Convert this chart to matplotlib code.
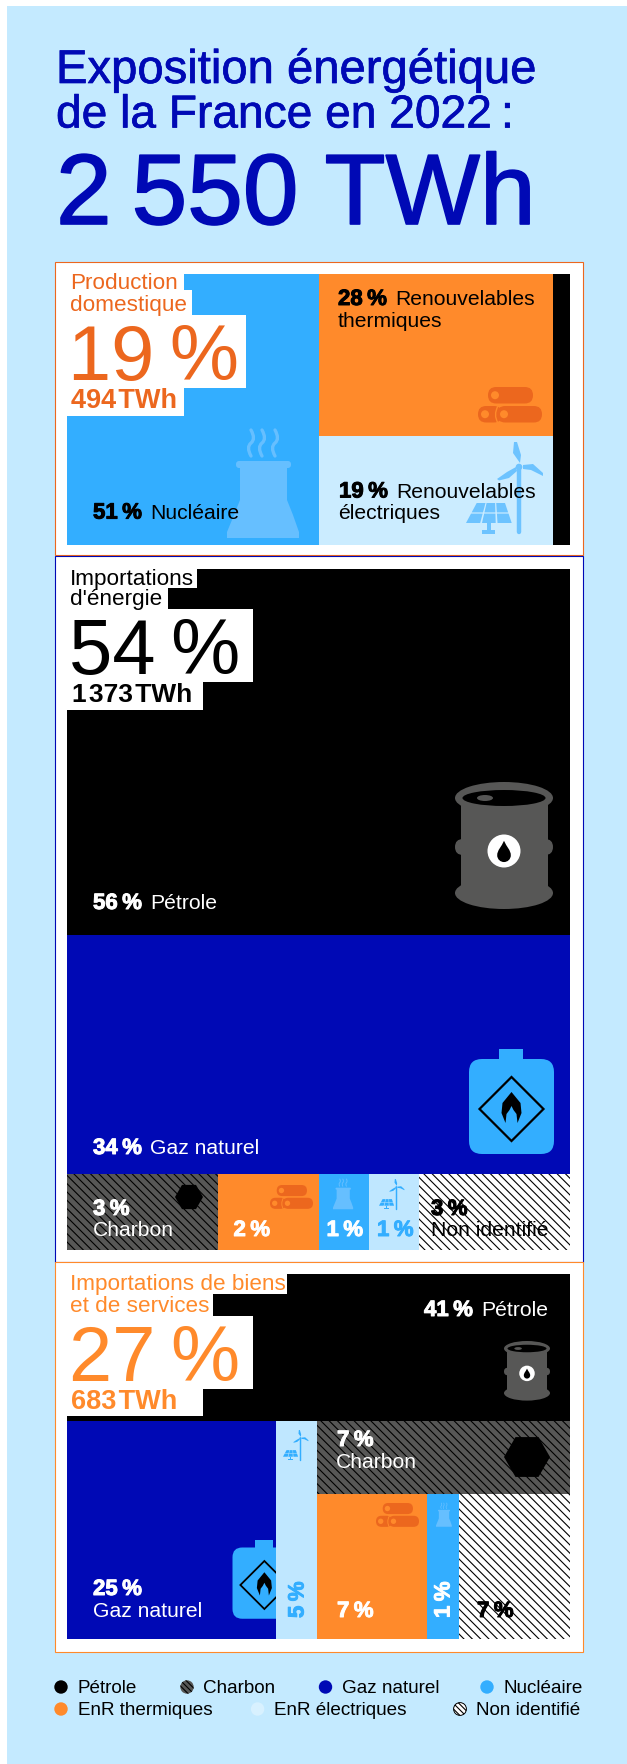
import matplotlib
matplotlib.use('Agg')
from matplotlib import pyplot as plt
from matplotlib.patches import Rectangle, Circle, Ellipse, Polygon, RegularPolygon, FancyBboxPatch, PathPatch
from matplotlib.path import Path
import matplotlib.patheffects as pe

plt.rcParams['font.family'] = ['Liberation Sans', 'DejaVu Sans']
plt.rcParams['hatch.linewidth'] = 0.8

# couleurs
BLEU_FOND = '#c4eaff'
BLEU_FONCE = '#0009b5'
BLEU = '#33aeff'
BLEU_ICONE = '#66bfff'
ORANGE = '#ff8a2b'
ORANGE_FONCE = '#ec671e'
CLAIR = '#cbecff'
GRIS = '#575756'

# production domestique (parts)
prod_names = ['Nucléaire', 'Renouvelables thermiques', 'Renouvelables électriques', 'Pétrole']
prod_values = [50.1, 27.9, 18.7, 3.3]

# importations d'energie
imp_rows = [53.7, 35.2, 11.1]
imp_small_names = ['Charbon', 'EnR thermiques', 'Nucléaire', 'EnR électriques', 'Non identifié']
imp_small_values = [3, 2, 1, 1, 3]

# importations de biens et services
biens_rows = [40.3, 59.7]
biens_cols = [24.9, 4.9, 30.2]
biens_right_rows = [10.0, 19.8]
biens_bottom_cols = [8.6, 2.5, 8.7]

legend_row1 = ['Pétrole', 'Charbon', 'Gaz naturel', 'Nucléaire']
legend_row2 = ['EnR thermiques', 'EnR électriques', 'Non identifié']

fig = plt.figure(figsize=(6.27, 17.64), dpi=100, facecolor='white')
ax = fig.add_axes([0, 0, 1, 1])
ax.set_xlim(0, 627)
ax.set_ylim(1764, 0)
ax.axis('off')


def cols(rect, values):
    x, y, w, h = rect
    out = []
    total = sum(values)
    for v in values:
        out.append((x, y, w * v / total, h))
        x += w * v / total
    return out


def rows(rect, values):
    x, y, w, h = rect
    out = []
    total = sum(values)
    for v in values:
        out.append((x, y, w, h * v / total))
        y += h * v / total
    return out


def cell(rect, color, hatch=None, z=1):
    ax.add_patch(Rectangle(rect[:2], rect[2], rect[3], facecolor=color, edgecolor='black' if hatch else color,
                           hatch=hatch, linewidth=0, zorder=z))


def txt(x, y, s, size, color='black', weight='normal', heavy=0, **kw):
    t = ax.text(x, y, s, fontsize=size, color=color, fontweight=weight, va='baseline', zorder=6, **kw)
    if heavy:
        t.set_path_effects([pe.withStroke(linewidth=heavy, foreground=color)])
    return t


def pct(x, y, s, color, name=None):
    # chiffre en gras + libelle sur la meme ligne
    t = txt(x, y, s, 16, color, 'bold', heavy=0.7)
    if name:
        bb = t.get_window_extent(fig.canvas.get_renderer())
        txt(bb.x1 + 8, y, name, 15.2, color)


def white(x0, y0, x1, y1):
    ax.add_patch(Rectangle((x0, y0), x1 - x0, y1 - y0, facecolor='white', linewidth=0, zorder=4))


def shape(points, color, z=2):
    ax.add_patch(Polygon(points, closed=True, facecolor=color, linewidth=0, zorder=z))


def drop(cx, cy, s, color, z=3):
    verts = [(cx, cy - 12 * s), (cx + 3 * s, cy - 5 * s), (cx + 8 * s, cy - 1 * s), (cx + 8 * s, cy + 5 * s),
             (cx + 8 * s, cy + 10 * s), (cx + 4 * s, cy + 13 * s), (cx, cy + 13 * s),
             (cx - 4 * s, cy + 13 * s), (cx - 8 * s, cy + 10 * s), (cx - 8 * s, cy + 5 * s),
             (cx - 8 * s, cy - 1 * s), (cx - 3 * s, cy - 5 * s), (cx, cy - 12 * s)]
    codes = [Path.MOVETO] + [Path.CURVE4] * 12
    ax.add_patch(PathPatch(Path(verts, codes), facecolor=color, linewidth=0, zorder=z))


def barrel(x, y, w):
    s = w / 98
    cx = x + 49 * s
    ax.add_patch(Rectangle((x + 5.5 * s, y + 16 * s), 87 * s, 96 * s, facecolor=GRIS, linewidth=0, zorder=2))
    ax.add_patch(Ellipse((cx, y + 16 * s), 98 * s, 32 * s, facecolor=GRIS, linewidth=0, zorder=2))
    ax.add_patch(Ellipse((cx, y + 111 * s), 98 * s, 32 * s, facecolor=GRIS, linewidth=0, zorder=2))
    ax.add_patch(FancyBboxPatch((x, y + 57 * s), 98 * s, 16 * s, boxstyle='round,pad=0,rounding_size=%f' % (8 * s),
                                facecolor=GRIS, linewidth=0, zorder=2))
    ax.add_patch(Ellipse((cx, y + 16 * s), 83 * s, 16 * s, facecolor='black', linewidth=0, zorder=3))
    ax.add_patch(Ellipse((x + 30 * s, y + 16 * s), 16 * s, 6 * s, facecolor=GRIS, linewidth=0, zorder=3))
    ax.add_patch(Circle((cx, y + 69 * s), 16.5 * s, facecolor='white', linewidth=0, zorder=3))
    drop(cx, y + 69 * s, 0.85 * s, 'black', z=3.2)


def bottle(x, y, s):
    # x, y: coin haut gauche du col de la bouteille compris
    ax.add_patch(Rectangle((x + 30 * s, y), 24 * s, 12 * s, facecolor=BLEU, linewidth=0, zorder=2))
    ax.add_patch(FancyBboxPatch((x, y + 10 * s), 85 * s, 95 * s, boxstyle='round,pad=0,rounding_size=%f' % (13 * s),
                                facecolor=BLEU, linewidth=0, zorder=2))
    cx, cy = x + 42.5 * s, y + 60 * s
    ax.add_patch(Polygon([(cx, cy - 32 * s), (cx + 32 * s, cy), (cx, cy + 32 * s), (cx - 32 * s, cy)], closed=True,
                         facecolor='none', edgecolor='black', linewidth=1.6 * max(s, 0.8), zorder=3))
    flame = [(cx, cy - 17 * s), (cx + 9 * s, cy - 6 * s), (cx + 10 * s, cy + 4 * s), (cx + 6 * s, cy + 14 * s),
             (cx + 5 * s, cy + 5 * s), (cx + 2 * s, cy + 1 * s), (cx, cy - 3 * s),
             (cx - 2 * s, cy + 1 * s), (cx - 5 * s, cy + 5 * s), (cx - 6 * s, cy + 14 * s),
             (cx - 10 * s, cy + 4 * s), (cx - 9 * s, cy - 6 * s)]
    shape(flame, 'black', z=3)


def logs(x, y, w):
    s = w / 64
    def log(x0, y0, width, holes):
        ax.add_patch(FancyBboxPatch((x0, y0), width, 16.5 * s, boxstyle='round,pad=0,rounding_size=%f' % (8.2 * s),
                                    facecolor=ORANGE_FONCE, linewidth=0, zorder=2))
        ax.add_patch(Circle((x0 + holes * s, y0 + 8.2 * s), 4 * s, facecolor=ORANGE, linewidth=0, zorder=3))
    log(x + 10 * s, y, 45 * s, 7)
    log(x, y + 19 * s, 24 * s, 7)
    log(x + 19 * s, y + 19 * s, 45 * s, 7)
    ax.add_patch(PathPatch(Path([(x + 20 * s, y + 19 * s), (x + 15 * s, y + 28 * s), (x + 20 * s, y + 36 * s)],
                                [Path.MOVETO, Path.CURVE3, Path.CURVE3]),
                           facecolor='none', edgecolor=ORANGE, linewidth=1.0 * s, zorder=3))


def plant(x, y, s):
    c = BLEU_ICONE
    for off in [24, 35, 48]:
        p = [(x + off * s, y + 26 * s), (x + (off - 5) * s, y + 17 * s), (x + off * s, y + 13 * s),
             (x + (off + 5) * s, y + 9 * s), (x + off * s, y)]
        ax.add_patch(PathPatch(Path(p, [Path.MOVETO, Path.CURVE3, Path.CURVE3, Path.CURVE3, Path.CURVE3]),
                               facecolor='none', edgecolor=c, linewidth=2.4 * s, capstyle='round', zorder=2))
    ax.add_patch(FancyBboxPatch((x + 9 * s, y + 31 * s), 55 * s, 7 * s, boxstyle='round,pad=0,rounding_size=%f' % (3 * s),
                                facecolor=c, linewidth=0, zorder=2))
    body = [(x + 13 * s, y + 35 * s), (x + 13 * s, y + 60 * s), (x + 13 * s, y + 70 * s), (x + 7 * s, y + 85 * s),
            (x, y + 102 * s), (x, y + 108 * s), (x + 72 * s, y + 108 * s), (x + 72 * s, y + 102 * s),
            (x + 66 * s, y + 85 * s), (x + 60 * s, y + 70 * s), (x + 60 * s, y + 60 * s), (x + 60 * s, y + 35 * s)]
    shape(body, c)


def wind_solar(x, y, s, c, z=2):
    hx, hy = x + 53 * s, y + 25 * s
    ax.plot([hx, hx], [hy, y + 90 * s], color=c, linewidth=3.2 * s, solid_capstyle='round', zorder=z)
    ax.add_patch(Circle((hx, hy), 3.3 * s, facecolor=c, linewidth=0, zorder=z))
    for blade in ([(1, -4), (-6, -14), (-5, -25), (-2, -25), (2, -12)],
                  [(4, -2), (14, -3), (24, 6), (24, 9), (12, 3), (4, 2)],
                  [(-3, 0), (-12, 5), (-22, 12), (-20, 13.5), (-10, 11), (-2, 4)]):
        shape([(hx + a * s, hy + b * s) for a, b in blade], c, z)
    # panneau solaire: trapeze decoupe en 2 x 3 vitres
    for r0, r1 in [(0.0, 0.47), (0.53, 1.0)]:
        for c0, c1 in [(0.0, 0.31), (0.35, 0.65), (0.69, 1.0)]:
            pts = []
            for rr, cc in [(r0, c0), (r0, c1), (r1, c1), (r1, c0)]:
                xl = 10.7 - 10.7 * rr
                xr = 39 + 6.7 * rr
                pts.append((x + (xl + (xr - xl) * cc) * s, y + (61 + 20 * rr) * s))
            shape(pts, c, z)
    ax.add_patch(Rectangle((x + 21 * s, y + 81 * s), 3.5 * s, 8 * s, facecolor=c, linewidth=0, zorder=z))
    ax.add_patch(Rectangle((x + 16 * s, y + 88 * s), 13 * s, 3.5 * s, facecolor=c, linewidth=0, zorder=z))


def hexa(cx, cy, r):
    ax.add_patch(RegularPolygon((cx, cy), 6, radius=r, orientation=3.14159 / 6, facecolor='black', linewidth=0, zorder=2))


# fond
ax.add_patch(Rectangle((7, 6), 620, 1758, facecolor=BLEU_FOND, linewidth=0, zorder=0))

# titre
txt(56, 83, 'Exposition énergétique', 34, BLEU_FONCE, heavy=0.5)
txt(56, 127.5, 'de la France en 2022\u2009:', 33.2, BLEU_FONCE, heavy=0.5)
txt(56, 224, '2\u2009550 TWh', 72, BLEU_FONCE, heavy=1.2)

# cadres
for (y0, y1, c) in [(262, 555, ORANGE_FONCE), (556, 1262, BLEU_FONCE), (1262, 1652, ORANGE)]:
    ax.add_patch(Rectangle((55, y0), 528, y1 - y0, facecolor='white', edgecolor=c, linewidth=0.8, zorder=0.5))

# --- production domestique
sec1 = (67, 274, 503, 271)
left = prod_values[0]
mid = prod_values[1] + prod_values[2]
end = prod_values[3]
nuc, center, pet = cols(sec1, [left, mid, end])
therm, elec = rows(center, prod_values[1:3])
cell(nuc, BLEU)
cell(therm, ORANGE)
cell(elec, CLAIR)
cell(pet, 'black')

white(67, 274, 184, 290)
white(67, 290, 192, 315)
white(67, 315, 246, 388)
white(67, 388, 184, 416)
txt(70, 289, 'Production', 16.2, ORANGE_FONCE)
txt(70, 311, 'domestique', 16.2, ORANGE_FONCE)
txt(68, 380, '19\u2009%', 56, ORANGE_FONCE)
txt(71, 408, '494\u200aTWh', 19.5, ORANGE_FONCE, 'bold')
pct(338, 305, '28\u2009%', 'black', 'Renouvelables')
txt(338, 327, 'thermiques', 15.2)
pct(339, 497.5, '19\u2009%', 'black', 'Renouvelables')
txt(338, 518.6, 'électriques', 15.2)
pct(93, 518.6, '51\u2009%', 'black', prod_names[0])
logs(478, 387, 64)
plant(227, 430, 1)
wind_solar(466, 442, 1, '#6dc3ff')

# --- importations d'energie
sec2 = (67, 569, 503, 681)
r_pet, r_gaz, r_small = rows(sec2, imp_rows)
cell(r_pet, 'black')
cell(r_gaz, BLEU_FONCE)
small = cols(r_small, imp_small_values)
cell(small[0], GRIS, '\\\\\\\\')
cell(small[1], ORANGE)
cell(small[2], BLEU)
cell(small[3], '#bfe7ff')
cell(small[4], 'white', '\\\\\\\\')

white(67, 569, 197, 588)
white(67, 588, 168, 609)
white(67, 609, 253, 682)
white(67, 682, 203, 710)
txt(70, 584.5, 'Importations', 16.2)
txt(70, 605, "d'énergie", 16.2)
txt(69, 674, '54\u2009%', 56)
txt(72, 702.5, '1\u200a373\u200aTWh', 19, 'black', 'bold')
pct(93, 909, '56\u2009%', 'white', 'Pétrole')
pct(93, 1154, '34\u2009%', 'white', 'Gaz naturel')
pct(93, 1215, '3\u2009%', 'white')
txt(93, 1236, 'Charbon', 15.2, 'white')
pct(233.5, 1236, '2\u2009%', 'white')
pct(326.5, 1236, '1\u2009%', 'white')
pct(377, 1236, '1\u2009%', BLEU)
pct(431, 1215, '3\u2009%', 'black')
txt(431, 1236, 'Non identifié', 15.2)
barrel(455, 782, 98)
bottle(469, 1049, 1)
hexa(189, 1197, 14)
logs(270, 1185, 43)
plant(333, 1179, 0.28)
wind_solar(379, 1179, 0.33, BLEU)

# --- importations de biens et services
sec3 = (67, 1274, 503, 365)
b_pet, b_rest = rows(sec3, biens_rows)
b_gaz, b_el, b_right = cols(b_rest, biens_cols)
b_char, b_bottom = rows(b_right, biens_right_rows)
b_th, b_nuc, b_non = cols(b_bottom, biens_bottom_cols)
cell(b_pet, 'black')
cell(b_gaz, BLEU_FONCE)
cell(b_el, '#bfe7ff', z=3.5)
cell(b_char, GRIS, '\\\\\\\\')
cell(b_th, ORANGE)
cell(b_nuc, BLEU)
cell(b_non, 'white', '\\\\\\\\')

white(67, 1274, 287, 1294)
white(67, 1294, 212.5, 1316)
white(67, 1316, 253, 1389)
white(67, 1389, 203, 1416)
txt(70, 1290, 'Importations de biens', 16.2, ORANGE)
txt(70, 1312, 'et de services', 16.2, ORANGE)
txt(69, 1381, '27\u2009%', 56, ORANGE)
txt(71, 1409, '683\u200aTWh', 19.5, ORANGE, 'bold')
pct(424, 1316, '41\u2009%', 'white', 'Pétrole')
pct(337, 1446, '7\u2009%', 'white')
txt(336, 1468, 'Charbon', 15.2, 'white')
pct(93, 1595, '25\u2009%', 'white')
txt(93, 1617, 'Gaz naturel', 15.2, 'white')
pct(337, 1617, '7\u2009%', 'white')
pct(477, 1617, '7\u2009%', 'black')
for xr, s, c in [(298, '5\u2009%', BLEU), (444, '1\u2009%', 'white')]:
    t = ax.text(xr, 1618, s, fontsize=16, color=c, fontweight='bold', rotation=90, ha='center', va='bottom',
                zorder=6)
    t.set_path_effects([pe.withStroke(linewidth=0.7, foreground=c)])
barrel(504, 1341, 46)
bottle(232.5, 1540, 0.75)
hexa(527, 1457, 23)
logs(376, 1503, 43)
plant(436, 1503, 0.22)
wind_solar(283, 1430, 0.33, BLEU, z=4)

# --- legende
leg1_x = [61, 187, 325.5, 487]
leg1_c = ['black', GRIS, BLEU_FONCE, BLEU]
for xc, name, c in zip(leg1_x, legend_row1, leg1_c):
    ax.add_patch(Circle((xc, 1687), 6.7, facecolor=c, edgecolor='black' if c == GRIS else c,
                        hatch='\\\\\\\\\\\\' if c == GRIS else None, linewidth=0, zorder=2))
    txt(xc + 16.5, 1693, name, 13.6)
leg2_x = [61, 257.6, 460]
leg2_c = [ORANGE, '#d8f1ff', 'white']
for xc, name, c in zip(leg2_x, legend_row2, leg2_c):
    if c == 'white':
        ax.add_patch(Circle((xc, 1709), 6.4, facecolor=c, edgecolor='black', hatch='\\\\\\\\\\\\', linewidth=0.7, zorder=2))
    else:
        ax.add_patch(Circle((xc, 1709), 6.7, facecolor=c, linewidth=0, zorder=2))
    txt(xc + 16.5, 1715, name, 13.6)

fig.savefig('out.png', dpi=100)
